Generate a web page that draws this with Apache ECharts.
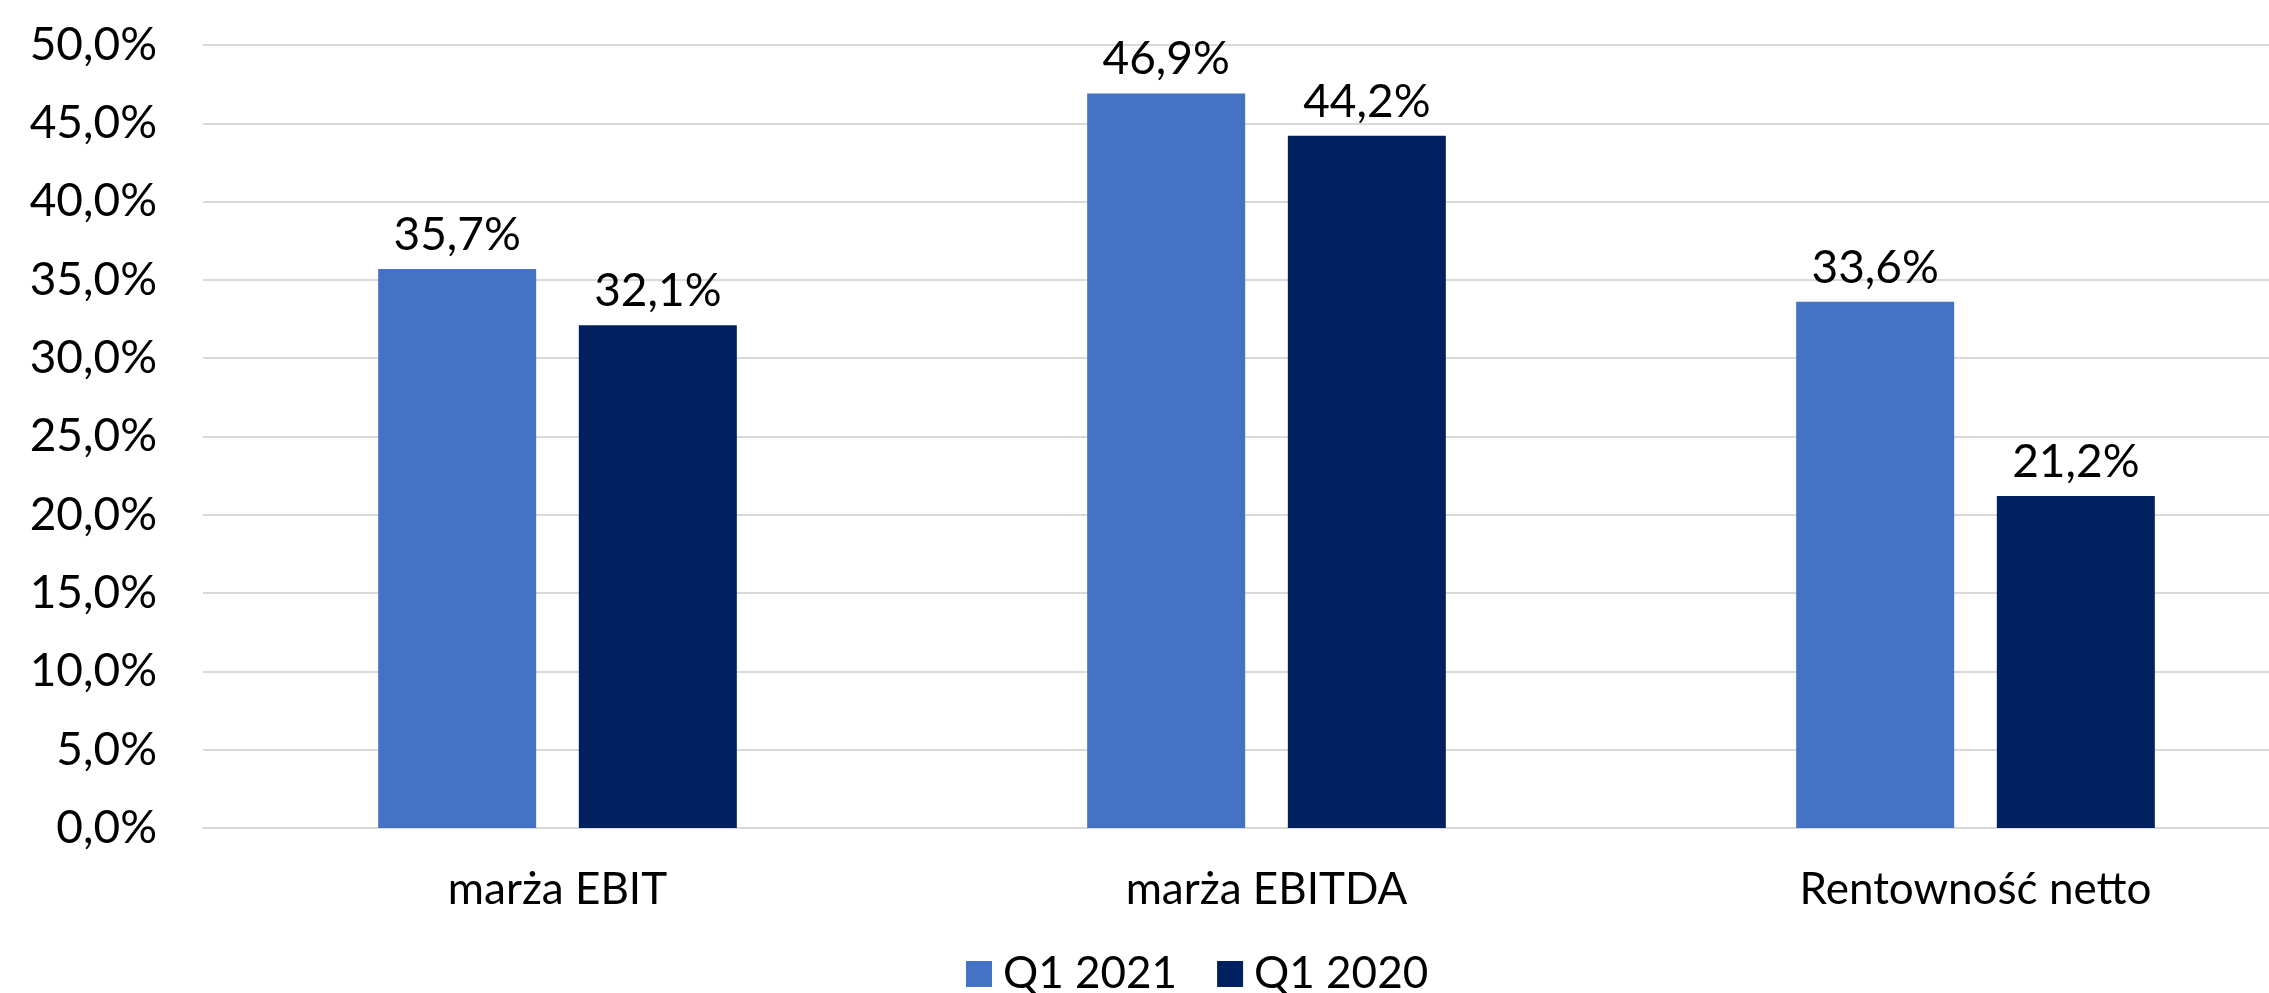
<!DOCTYPE html>
<html>
<head>
<meta charset="utf-8">
<title>Marże Q1 2021 vs Q1 2020</title>
<script src="https://cdn.jsdelivr.net/npm/echarts@6/dist/echarts.min.js"></script>
<style>
  html, body { margin: 0; padding: 0; background: #ffffff; overflow: hidden; }
  /* The drawing surface runs past the right edge of the page; the last gridlines are cut off there */
  #chart { width: 2330px; height: 993px; }
</style>
</head>
<body>
<div id="chart"></div>
<script>
// Categories and values (percent)
const categories = ['marża EBIT', 'marża EBITDA', 'Rentowność netto'];
const seriesNames = ['Q1 2021', 'Q1 2020'];
const q1_2021 = [35.7, 46.9, 33.6];
const q1_2020 = [32.1, 44.2, 21.2];
const yMin = 0;
const yMax = 50;
const yStep = 5;

const FONT = 'Lato, "Open Sans", sans-serif';
const fmtPct = v => v.toFixed(1).replace('.', ',') + '%';

const chart = echarts.init(document.getElementById('chart'), null, { renderer: 'canvas' });

const labelStyle = {
  show: true,
  position: 'top',
  distance: 11,
  color: '#000000',
  fontFamily: FONT,
  fontSize: 46,
  formatter: p => fmtPct(p.value)
};

chart.setOption({
  backgroundColor: '#ffffff',
  animation: false,
  textStyle: { fontFamily: FONT },
  grid: { left: 203, right: 0, top: 45, bottom: 165, containLabel: false },
  legend: {
    data: seriesNames,
    left: 961,
    top: 947,
    itemWidth: 26,
    itemHeight: 26,
    itemGap: 40,
    icon: 'rect',
    textStyle: { color: '#000000', fontSize: 44, fontFamily: FONT, padding: [0, 0, 0, 6] }
  },
  xAxis: {
    type: 'category',
    data: categories,
    axisTick: { show: false },
    axisLine: { show: true, lineStyle: { color: '#D9D9D9', width: 2 } },
    axisLabel: { color: '#000000', fontSize: 44, fontFamily: FONT, margin: 40 }
  },
  yAxis: {
    type: 'value',
    min: yMin,
    max: yMax,
    interval: yStep,
    axisLine: { show: false },
    axisTick: { show: false },
    splitLine: { lineStyle: { color: '#D9D9D9', width: 2 } },
    axisLabel: {
      color: '#000000', fontSize: 46, fontFamily: FONT, margin: 46,
      formatter: v => fmtPct(v)
    }
  },
  series: [
    {
      name: seriesNames[0],
      type: 'bar',
      data: q1_2021,
      barWidth: 158,
      barGap: '27%',
      itemStyle: { color: '#4472C4' },
      label: labelStyle
    },
    {
      name: seriesNames[1],
      type: 'bar',
      data: q1_2020,
      barWidth: 158,
      barGap: '27%',
      itemStyle: { color: '#002060' },
      label: labelStyle
    }
  ]
});
</script>
</body>
</html>
